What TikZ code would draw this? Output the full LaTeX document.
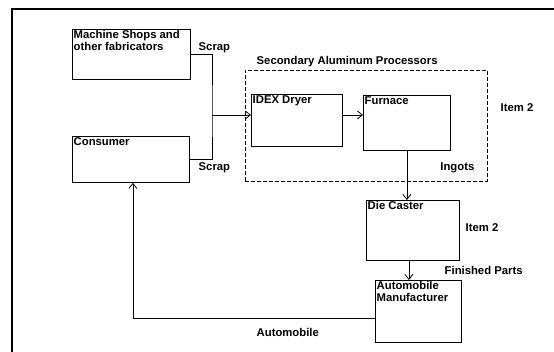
\documentclass[tikz,border=0pt]{standalone}
\usepackage{fontspec}
\setmainfont{Liberation Sans}
\usetikzlibrary{positioning,arrows.meta}
\tikzset{
  box/.style={rectangle, draw=black, line width=0.8pt, fill=white, inner sep=0pt},
  grpbox/.style={rectangle, draw=black, line width=0.8pt, dash pattern=on 4pt off 2pt, inner sep=0pt},
  lbl/.style={font=\bfseries\fontsize{11.3}{11.8}\selectfont, align=left, inner sep=1.5pt},
  inlbl/.style={lbl, anchor=north west},
  flow/.style={line width=0.8pt},
  arr/.style={-{Straight Barb[length=5pt, width=8pt]}, line width=0.8pt},
}

\begin{document}
\begin{tikzpicture}[x=1pt, y=-1pt]
\useasboundingbox (0,0) rectangle (554,352);

% ---------- frame ----------
\draw[line width=1.2pt] (12,352) -- (12,9) -- (554,9);

% ---------- sources ----------
\node[box, anchor=north west, minimum width=118pt, minimum height=50pt,
      label={[inlbl]north west:Machine Shops and\\other fabricators}] (shops) at (72,29) {};
\node[box, anchor=north west, minimum width=117pt, minimum height=46pt,
      label={[inlbl]north west:Consumer}] (consumer) at (72,136) {};

% ---------- secondary aluminum processors ----------
\node[grpbox, anchor=north west, minimum width=242pt, minimum height=111pt] (sap) at (245,70) {};
\node[lbl, anchor=south west] (saplbl) at ([xshift=10pt, yshift=1pt]sap.north west)
  {Secondary Aluminum Processors};
\node[box, anchor=north west, minimum width=91pt, minimum height=52pt,
      label={[inlbl]north west:IDEX Dryer}] (dryer) at (251,94) {};
\node[box, anchor=north west, minimum width=87pt, minimum height=55pt,
      label={[inlbl]north west:Furnace}] (furnace) at (363,95) {};
\node[lbl, anchor=base east] (ingots) at (476,171) {Ingots};
\node[lbl, anchor=base west] (item1) at (499,112) {Item 2};

% ---------- downstream ----------
\node[box, anchor=north west, minimum width=93pt, minimum height=60pt,
      label={[inlbl]north west:Die Caster}] (diecaster) at (366,200) {};
\node[lbl, anchor=base west] (item2) at (464,232) {Item 2};
\node[box, anchor=north west, minimum width=86pt, minimum height=62pt,
      label={[inlbl]north west:Automobile\\Manufacturer}] (automfr) at (375,280) {};

% ---------- connectors ----------
\coordinate (join) at (212,115);
\draw[flow] (shops.east) -| (join) |- (consumer.east);
\node[lbl, anchor=base west] (scrap1) at (197,51) {Scrap};
\node[lbl, anchor=base west] (scrap2) at (197,171) {Scrap};
\draw[arr] (join) -- (join -| dryer.west);
\draw[arr] (dryer.east |- join) -- (join -| furnace.west);
\draw[arr] (furnace.south) -- (furnace.south |- diecaster.north);
\draw[arr] ([xshift=-4pt]diecaster.south) -- ([xshift=-4pt]diecaster.south |- automfr.north);
\node[lbl, anchor=base west] (parts) at (443,275) {Finished Parts};
\draw[arr] ([yshift=-7pt]automfr.west) -| ([xshift=2pt]consumer.south);
\node[lbl, anchor=base west] (auto) at (255,337) {Automobile};

\end{tikzpicture}
\end{document}
